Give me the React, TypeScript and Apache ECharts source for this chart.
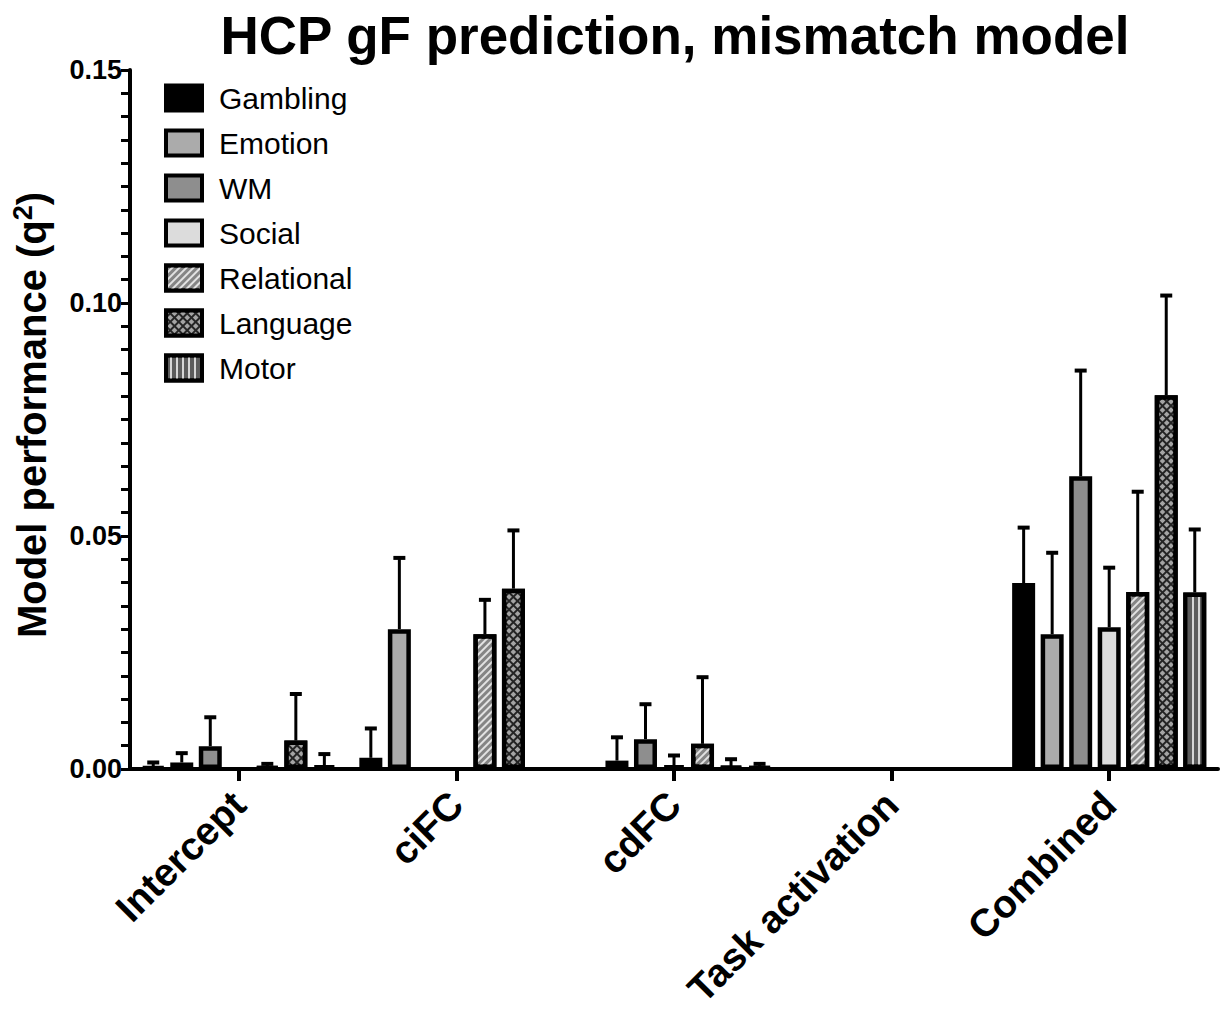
import React, { useEffect, useRef } from 'react';
import * as echarts from 'echarts';

// Predictor sets on the x axis and the task-fMRI feature groups drawn as bars
const categories = ['Intercept', 'ciFC', 'cdFC', 'Task activation', 'Combined'];
const seriesNames = ['Gambling', 'Emotion', 'WM', 'Social', 'Relational', 'Language', 'Motor'];

// Mean q² per predictor set, and the upper error-bar length
const gamblingMean = [0.0004, 0.0024, 0, 0, 0.0399];
const gamblingErr = [0.0010, 0.0063, 0, 0, 0.0119];
const emotionMean = [0.0014, 0.0300, 0.0018, 0, 0.0289];
const emotionErr = [0.0020, 0.0153, 0.0050, 0, 0.0175];
const wmMean = [0.0049, 0, 0.0064, 0, 0.0628];
const wmErr = [0.0062, 0, 0.0075, 0, 0.0227];
const socialMean = [0, 0, 0.0007, 0, 0.0304];
const socialErr = [0, 0, 0.0022, 0, 0.0128];
const relationalMean = [0.0004, 0.0289, 0.0054, 0, 0.0380];
const relationalErr = [0.0007, 0.0074, 0.0143, 0, 0.0215];
const languageMean = [0.0061, 0.0387, 0.0005, 0, 0.0802];
const languageErr = [0.0100, 0.0125, 0.0016, 0, 0.0214];
const motorMean = [0.0007, 0, 0.0004, 0, 0.0379];
const motorErr = [0.0025, 0, 0.0007, 0, 0.0135];

const yMin = 0;
const yMax = 0.15;
const yStep = 0.05;

const means = [gamblingMean, emotionMean, wmMean, socialMean, relationalMean, languageMean, motorMean];
const errs = [gamblingErr, emotionErr, wmErr, socialErr, relationalErr, languageErr, motorErr];

const FONT = '"Liberation Sans", Arial, Helvetica, sans-serif';
const BAR_WIDTH = 23;
const BAR_GAP = 0.24;
const PITCH = BAR_WIDTH * (1 + BAR_GAP);

// Fill and hatch style of every feature group
const fills: any[] = [
  { color: '#000000' },
  { color: '#ababab' },
  { color: '#8e8e8e' },
  { color: '#dcdcdc' },
  {
    color: '#858585',
    decal: { symbol: 'rect', symbolSize: 1, color: '#e2e2e2', dashArrayX: [1, 0], dashArrayY: [2, 3], rotation: -Math.PI / 4 },
  },
  {
    color: '#242424',
    decal: { symbol: 'rect', symbolSize: 1, color: '#a4a4a4', dashArrayX: [4, 2], dashArrayY: [4, 2], rotation: Math.PI / 4 },
  },
  {
    color: '#5c5c5c',
    decal: { symbol: 'rect', symbolSize: 1, color: '#d6d6d6', dashArrayX: [1, 0], dashArrayY: [2, 4], rotation: Math.PI / 2 },
  },
];

export default function App() {
  const ref = useRef<HTMLDivElement>(null);

  useEffect(() => {
    if (!ref.current) return;
    const chart = echarts.init(ref.current, null, { renderer: 'svg' });

    // A zero mean draws no bar at all (no flat outline on the axis)
    const barSeries = seriesNames.map((name, i) => ({
      name,
      type: 'bar',
      data: means[i].map((v) => (v === 0 ? '-' : v)),
      barWidth: BAR_WIDTH,
      barGap: `${BAR_GAP * 100}%`,
      z: 3,
      itemStyle: {
        color: fills[i].color,
        decal: fills[i].decal,
        borderColor: '#000',
        borderWidth: 4.5,
      },
      emphasis: { disabled: true },
    }));

    const errData: number[][] = [];
    seriesNames.forEach((_, s) => {
      categories.forEach((_, c) => {
        if (errs[s][c] > 0) errData.push([c, means[s][c], errs[s][c], s]);
      });
    });

    const option: any = {
      animation: false,
      textStyle: { fontFamily: FONT },
      grid: { left: 130, right: 7, top: 70, bottom: 244, containLabel: false, outerBoundsMode: 'none' },
      legend: {
        data: seriesNames,
        orient: 'vertical',
        left: 164,
        top: 83,
        padding: 0,
        itemWidth: 36,
        itemHeight: 25,
        itemGap: 15,
        icon: 'rect',
        selectedMode: false,
        itemStyle: { borderColor: '#000', borderWidth: 4 },
        textStyle: {
          fontFamily: FONT,
          fontSize: 30,
          lineHeight: 30,
          color: '#000',
          padding: [0, 0, 0, 12],
        },
      },
      xAxis: {
        type: 'category',
        data: categories,
        axisLine: { show: true, lineStyle: { color: '#000', width: 4 } },
        axisTick: { show: true, alignWithLabel: true, interval: 0, length: 12, lineStyle: { color: '#000', width: 4 } },
        axisLabel: {
          interval: 0,
          rotate: 45,
          margin: 29,
          color: '#000',
          fontFamily: FONT,
          fontWeight: 'bold',
          fontSize: 39,
        },
        splitLine: { show: false },
      },
      yAxis: {
        type: 'value',
        min: yMin,
        max: yMax,
        interval: yStep,
        axisLine: { show: true, lineStyle: { color: '#000', width: 4 } },
        axisTick: { show: true, length: 9, lineStyle: { color: '#000', width: 3 } },
        minorTick: { show: true, splitNumber: 10, length: 9, lineStyle: { color: '#000', width: 3 } },
        splitLine: { show: false },
        minorSplitLine: { show: false },
        axisLabel: {
          margin: 8,
          color: '#000',
          fontFamily: FONT,
          fontWeight: 'bold',
          fontSize: 27,
          formatter: (v: number) => v.toFixed(2),
        },
      },
      series: [
        ...barSeries,
        {
          name: 'error',
          type: 'custom',
          z: 2,
          data: errData,
          encode: { x: 0, y: 1 },
          silent: true,
          renderItem: (_params: any, api: any) => {
            const c = api.value(0);
            const m = api.value(1);
            const e = api.value(2);
            const s = api.value(3);
            const base = api.coord([c, m]);
            const top = api.coord([c, m + e]);
            const x = base[0] + (s - 3) * PITCH;
            return {
              type: 'group',
              children: [
                { type: 'line', shape: { x1: x, y1: base[1], x2: x, y2: top[1] }, style: { stroke: '#000', lineWidth: 3 } },
                { type: 'line', shape: { x1: x - 6, y1: top[1], x2: x + 6, y2: top[1] }, style: { stroke: '#000', lineWidth: 4 } },
              ],
            };
          },
        },
      ],
      graphic: [
        {
          type: 'text',
          x: 675,
          y: 35,
          style: {
            text: 'HCP gF prediction, mismatch model',
            fill: '#000',
            font: `bold 53px ${FONT}`,
            textAlign: 'center',
            textVerticalAlign: 'middle',
          },
        },
        {
          type: 'text',
          x: 32,
          y: 415,
          rotation: Math.PI / 2,
          style: {
            text: '{a|Model performance (q}{b|2}{a|)}',
            fill: '#000',
            textAlign: 'center',
            textVerticalAlign: 'middle',
            rich: {
              a: { fontFamily: FONT, fontWeight: 'bold', fontSize: 40, lineHeight: 46, fill: '#000' },
              b: { fontFamily: FONT, fontWeight: 'bold', fontSize: 27, lineHeight: 46, verticalAlign: 'top', fill: '#000' },
            },
          },
        },
      ],
    };

    chart.setOption(option);
    return () => chart.dispose();
  }, []);

  return (
    <div
      ref={ref}
      style={{ position: 'fixed', left: 0, top: 0, width: 1225, height: 1013, background: '#fff' }}
    />
  );
}
